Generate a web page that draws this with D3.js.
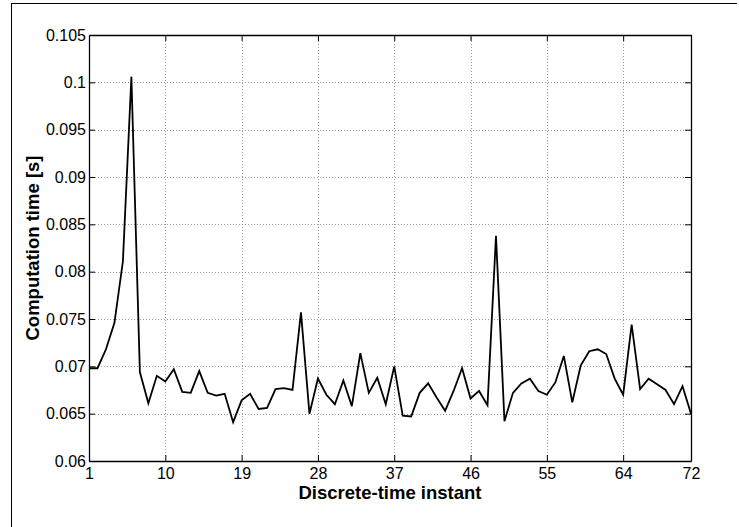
<!DOCTYPE html>
<html>
<head>
<meta charset="utf-8">
<script src="https://cdn.jsdelivr.net/npm/d3@7"></script>
<style>
  html, body { margin: 0; padding: 0; background: #fff; }
  svg { display: block; }
  text { font-family: "Liberation Sans", Arial, Helvetica, sans-serif; fill: #000; }
</style>
</head>
<body>
<svg id="chart" width="739" height="527"></svg>
<script>
// Data
const instants = d3.range(1, 73);
const computationTime = [
  0.0698, 0.0698, 0.0718, 0.0746, 0.0811, 0.1006, 0.0694, 0.0661, 0.0690, 0.0684,
  0.0697, 0.0673, 0.0672, 0.0695, 0.0672, 0.0669, 0.0671, 0.0641, 0.0664, 0.0671,
  0.0655, 0.0656, 0.0676, 0.0677, 0.0675, 0.0757, 0.0650, 0.0687, 0.0670, 0.0660,
  0.0685, 0.0658, 0.0714, 0.0672, 0.0688, 0.0660, 0.0700, 0.0648, 0.0647, 0.0672,
  0.0682, 0.0667, 0.0653, 0.0674, 0.0698, 0.0666, 0.0674, 0.0659, 0.0838, 0.0642,
  0.0672, 0.0682, 0.0687, 0.0674, 0.0670, 0.0683, 0.0711, 0.0662, 0.0701, 0.0716,
  0.0718, 0.0713, 0.0687, 0.0670, 0.0744, 0.0676, 0.0687, 0.0681, 0.0675, 0.0660,
  0.0679, 0.0650
];
const xTicks = [1, 10, 19, 28, 37, 46, 55, 64, 72];
const yTicks = [0.06, 0.065, 0.07, 0.075, 0.08, 0.085, 0.09, 0.095, 0.1, 0.105];
const xLabel = "Discrete-time instant";
const yLabel = "Computation time [s]";

const svg = d3.select("#chart");
const pLeft = 89, pRight = 691, pTop = 35, pBottom = 461;

const x = d3.scaleLinear().domain([1, 72]).range([pLeft, pRight]);
const y = d3.scaleLinear().domain([0.06, 0.105]).range([pBottom, pTop]);

// outer figure frame (top + left)
svg.append("line").attr("x1", 11).attr("x2", 737).attr("y1", 3.5).attr("y2", 3.5)
  .attr("stroke", "#000").attr("stroke-width", 1);
svg.append("line").attr("x1", 11.5).attr("x2", 11.5).attr("y1", 3).attr("y2", 527)
  .attr("stroke", "#000").attr("stroke-width", 1);

// grid
const grid = svg.append("g").attr("stroke", "#9a9a9a").attr("stroke-width", 1)
  .attr("stroke-dasharray", "1,2");
grid.selectAll("line.gx").data(xTicks.slice(1, -1)).join("line")
  .attr("x1", d => Math.round(x(d)) + 0.5).attr("x2", d => Math.round(x(d)) + 0.5)
  .attr("y1", pTop).attr("y2", pBottom);
grid.selectAll("line.gy").data(yTicks.slice(1, -1)).join("line")
  .attr("y1", d => Math.round(y(d)) + 0.5).attr("y2", d => Math.round(y(d)) + 0.5)
  .attr("x1", pLeft).attr("x2", pRight);

// data line
const line = d3.line().x((d, i) => x(instants[i])).y(d => y(d));
svg.append("path").datum(computationTime)
  .attr("d", line).attr("fill", "none").attr("stroke", "#000")
  .attr("stroke-width", 1.8).attr("stroke-linejoin", "miter");

// axes
const tickLen = 6;
const fmtY = d => String(+d.toFixed(3));
const xAxisB = d3.axisBottom(x).tickValues(xTicks).tickSizeInner(-tickLen).tickSizeOuter(0)
  .tickPadding(6.5).tickFormat(d3.format("d"));
const xAxisT = d3.axisTop(x).tickValues(xTicks).tickSizeInner(-tickLen).tickSizeOuter(0)
  .tickFormat("");
const yAxisL = d3.axisLeft(y).tickValues(yTicks).tickSizeInner(-tickLen).tickSizeOuter(0)
  .tickPadding(3).tickFormat(fmtY);
const yAxisR = d3.axisRight(y).tickValues(yTicks).tickSizeInner(-tickLen).tickSizeOuter(0)
  .tickFormat("");

function style(g) {
  g.selectAll("path.domain").attr("stroke", "#000").attr("stroke-width", 1.3);
  g.selectAll(".tick line").attr("stroke", "#000").attr("stroke-width", 1);
  g.selectAll(".tick text").attr("font-size", 16)
    .attr("font-family", "'Liberation Sans', Arial, sans-serif").attr("fill", "#000");
}
svg.append("g").attr("transform", `translate(0,${pBottom})`).call(xAxisB).call(style);
svg.append("g").attr("transform", `translate(0,${pTop})`).call(xAxisT).call(style);
svg.append("g").attr("transform", `translate(${pLeft},0)`).call(yAxisL).call(style);
svg.append("g").attr("transform", `translate(${pRight},0)`).call(yAxisR).call(style);

// axis labels
svg.append("text").attr("x", (pLeft + pRight) / 2).attr("y", 499)
  .attr("text-anchor", "middle").attr("font-size", 18.5).attr("font-weight", "bold")
  .text(xLabel);
svg.append("text").attr("transform", `translate(38.5,${(pTop + pBottom) / 2}) rotate(-90)`)
  .attr("text-anchor", "middle").attr("font-size", 18.5).attr("font-weight", "bold")
  .text(yLabel);
</script>
</body>
</html>
